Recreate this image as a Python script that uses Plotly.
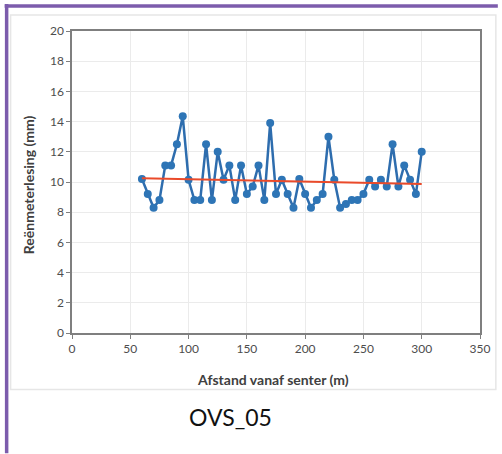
import plotly.graph_objects as go

afstand = [60, 65, 70, 75, 80, 85, 90, 95, 100, 105, 110, 115, 120, 125, 130, 135, 140, 145,
           150, 155, 160, 165, 170, 175, 180, 185, 190, 195, 200, 205, 210, 215, 220, 225,
           230, 235, 240, 245, 250, 255, 260, 265, 270, 275, 280, 285, 290, 295, 300]
reen = [10.2, 9.2, 8.3, 8.8, 11.1, 11.1, 12.5, 14.35, 10.15, 8.8, 8.8, 12.5, 8.8, 12.0,
        10.15, 11.1, 8.8, 11.1, 9.2, 9.7, 11.1, 8.8, 13.9, 9.2, 10.15, 9.2, 8.3, 10.2,
        9.2, 8.3, 8.8, 9.2, 13.0, 10.15, 8.3, 8.55, 8.8, 8.8, 9.2, 10.15, 9.7, 10.15,
        9.7, 12.5, 9.7, 11.1, 10.15, 9.2, 12.0]
trend_x = [60, 300]
trend_y = [10.25, 9.87]

x_ticks = [0, 50, 100, 150, 200, 250, 300, 350]
y_ticks = [0, 2, 4, 6, 8, 10, 12, 14, 16, 18, 20]

FONT = "Lato"
fig = go.Figure()
fig.add_trace(go.Scatter(x=afstand, y=reen, mode="lines+markers",
                         line=dict(color="#2E6DAE", width=2.5),
                         marker=dict(color="#2E75B6", size=8),
                         showlegend=False))
fig.add_trace(go.Scatter(x=trend_x, y=trend_y, mode="lines",
                         line=dict(color="#EA4A2A", width=2),
                         showlegend=False))

axis_common = dict(showline=True, linecolor="#7F7F7F", linewidth=1.5, mirror=True,
                   showgrid=True, gridcolor="#EBEBEB", gridwidth=1,
                   ticks="outside", ticklen=4, tickcolor="#7F7F7F",
                   tickfont=dict(family=FONT, size=12, color="#4D4D4D"),
                   zeroline=False)
fig.update_xaxes(range=[0, 350], tickvals=x_ticks, **axis_common)
fig.update_yaxes(range=[0, 20], tickvals=y_ticks, **axis_common)

fig.update_layout(
    width=502, height=454,
    margin=dict(l=72, r=18, t=31, b=120.5),
    paper_bgcolor="white", plot_bgcolor="white",
    font=dict(family=FONT),
    shapes=[
        dict(type="rect", xref="paper", yref="paper",
             x0=(10 - 72) / 412, x1=(500 - 72) / 412,
             y0=(333.5 - 390) / 302.5, y1=(333.5 - 15) / 302.5,
             line=dict(color="#E6E6E6", width=1.5), layer="below"),
        dict(type="line", xref="paper", yref="paper",
             x0=(6 - 72) / 412, x1=(6 - 72) / 412,
             y0=(333.5 - 454) / 302.5, y1=(333.5 - 4) / 302.5,
             line=dict(color="#7C5CAC", width=3.5)),
        dict(type="line", xref="paper", yref="paper",
             x0=(4 - 72) / 412, x1=(502 - 72) / 412,
             y0=(333.5 - 6) / 302.5, y1=(333.5 - 6) / 302.5,
             line=dict(color="#7C5CAC", width=3.5)),
    ],
    annotations=[
        dict(text="<b>Reënmeterlesing (mm)</b>", textangle=-90, xref="paper", yref="paper",
             x=(28 - 72) / 412, y=(333.5 - 185) / 302.5, showarrow=False,
             font=dict(family=FONT, size=14, color="#404040"), xanchor="center", yanchor="middle"),
        dict(text="<b>Afstand vanaf senter (m)</b>", xref="paper", yref="paper",
             x=(275 - 72) / 412, y=(333.5 - 380) / 302.5, showarrow=False,
             font=dict(family=FONT, size=14, color="#404040"), xanchor="center", yanchor="middle"),
        dict(text="OVS_05", xref="paper", yref="paper",
             x=(232 - 72) / 412, y=(333.5 - 418) / 302.5, showarrow=False,
             font=dict(family=FONT, size=23, color="#111111"), xanchor="center", yanchor="middle"),
    ],
)

fig.write_html("out.html", config={"displayModeBar": False},
               post_script="document.body.style.margin='0';document.body.style.overflow='hidden';")
